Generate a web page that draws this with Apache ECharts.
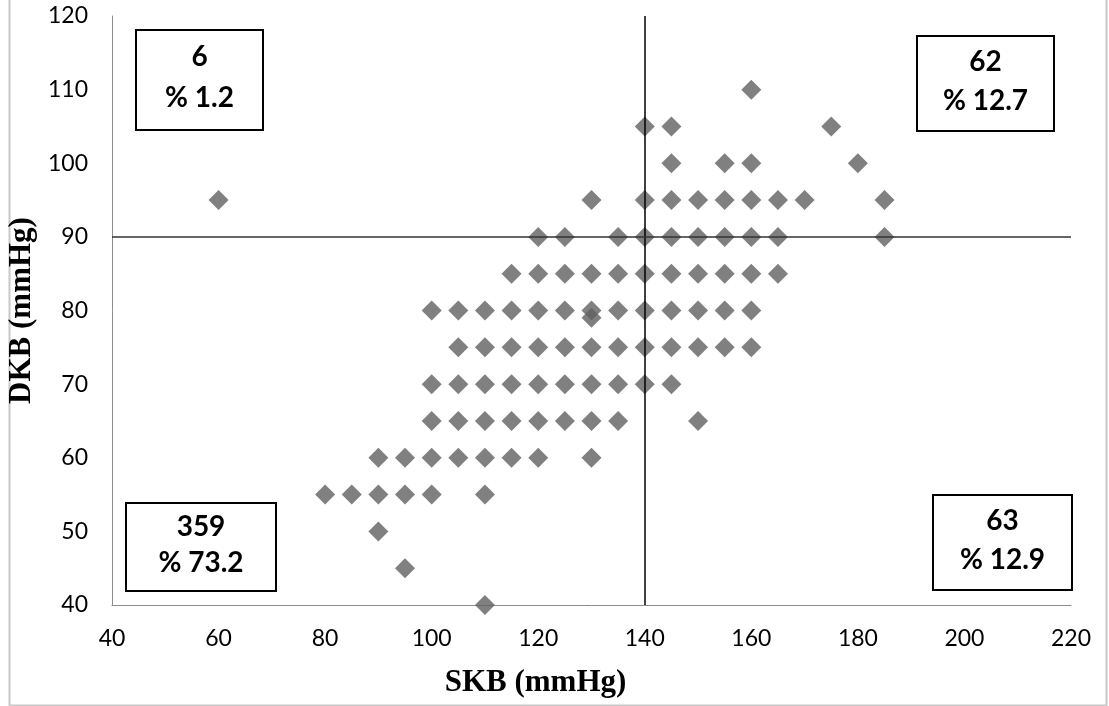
<!DOCTYPE html>
<html>
<head>
<meta charset="utf-8">
<script src="https://cdn.jsdelivr.net/npm/echarts@6/dist/echarts.min.js"></script>
<style>
html,body{margin:0;padding:0;background:#fff;}
#Chart{width:1109px;height:706px;}
</style>
</head>
<body>
<div id="Chart"></div>
<script>
// 数据 (SKB, DKB)
var skbValues=[
	160,
	140,145,175,
	145,155,160,180,
	60,130,140,145,150,155,160,165,170,185,
	120,125,135,140,145,150,155,160,165,185,
	115,120,125,130,135,140,145,150,155,160,165,
	100,105,110,115,120,125,130,135,140,145,150,155,160,130,
	105,110,115,120,125,130,135,140,145,150,155,160,
	100,105,110,115,120,125,130,135,140,145,
	100,105,110,115,120,125,130,135,150,
	90,95,100,105,110,115,120,130,
	80,85,90,95,100,110,
	90,
	95,
	110
]
var dkbValues=[
	110,
	105,105,105,
	100,100,100,100,
	95,95,95,95,95,95,95,95,95,95,
	90,90,90,90,90,90,90,90,90,90,
	85,85,85,85,85,85,85,85,85,85,85,
	80,80,80,80,80,80,80,80,80,80,80,80,80,79,
	75,75,75,75,75,75,75,75,75,75,75,75,
	70,70,70,70,70,70,70,70,70,70,
	65,65,65,65,65,65,65,65,65,
	60,60,60,60,60,60,60,60,
	55,55,55,55,55,55,
	50,
	45,
	40
]
var refLines={skb:140,dkb:90}
var quadCounts=["6","62","359","63"]
var quadPercents=["% 1.2","% 12.7","% 73.2","% 12.9"]

//标注框
function quadBox(x,y,w,h,i){
	return {
		type:'group',
		left:x,top:y,
		children:[
			{type:'rect',shape:{x:0,y:0,width:w,height:h},style:{fill:'#fff',stroke:'#000',lineWidth:2}},
			{type:'text',style:{x:w/2,y:h*0.27,text:quadCounts[i],align:'center',verticalAlign:'middle',fill:'#000',font:'bold 28px Lato'}},
			{type:'text',style:{x:w/2,y:h*0.68,text:quadPercents[i],align:'center',verticalAlign:'middle',fill:'#000',font:'bold 28px Lato'}}
		]
	}
}

function drawChar(){
	var points=[]
	skbValues.forEach(function(v,i){points.push([v,dkbValues[i]])})
	var myChart=echarts.init(document.getElementById('Chart'))
	var option={
		animation:false,
		grid:{left:112,right:38,top:16,bottom:101,outerBoundsMode:'none',containLabel:false},
		xAxis:{
			type:'value',min:40,max:220,interval:20,
			name:'SKB (mmHg)',nameLocation:'middle',nameGap:62,
			nameTextStyle:{fontFamily:'Liberation Serif',fontWeight:'bold',fontSize:31,color:'#000',padding:[0,112,0,0]},
			axisLine:{show:true,onZero:false,lineStyle:{color:'#8c8c8c',width:1}},
			axisTick:{show:false},
			splitLine:{show:false},
			axisLabel:{color:'#000',fontFamily:'Lato',fontSize:23,margin:22}
		},
		yAxis:{
			type:'value',min:40,max:120,interval:10,
			name:'DKB (mmHg)',nameLocation:'middle',nameGap:64,
			nameTextStyle:{fontFamily:'Liberation Serif',fontWeight:'bold',fontSize:31,color:'#000'},
			axisLine:{show:true,onZero:false,lineStyle:{color:'#8c8c8c',width:1}},
			axisTick:{show:false},
			splitLine:{show:false},
			axisLabel:{color:'#000',fontFamily:'Lato',fontSize:23,margin:24}
		},
		series:[{
			type:'scatter',
			data:points,
			symbol:'diamond',
			symbolSize:[20,20],
			itemStyle:{color:'#606060'},
			markLine:{
				silent:true,
				symbol:'none',
				label:{show:false},
				data:[
					{xAxis:refLines.skb,lineStyle:{color:'#000',width:1.5,type:'solid'}},
					{yAxis:refLines.dkb,lineStyle:{color:'#333',width:1.5,type:'solid'}}
				]
			}
		}],
		graphic:[
			{type:'rect',left:7,top:-4,shape:{x:0,y:0,width:1097,height:707},style:{fill:'none',stroke:'#c8c8c8',lineWidth:2},silent:true},
			quadBox(135,29,127,100,0),
			quadBox(916,35,137,95,1),
			quadBox(125,502,150,88,2),
			quadBox(932,494,139,95,3)
		]
	}
	myChart.setOption(option)
}

drawChar()
</script>
</body>
</html>
